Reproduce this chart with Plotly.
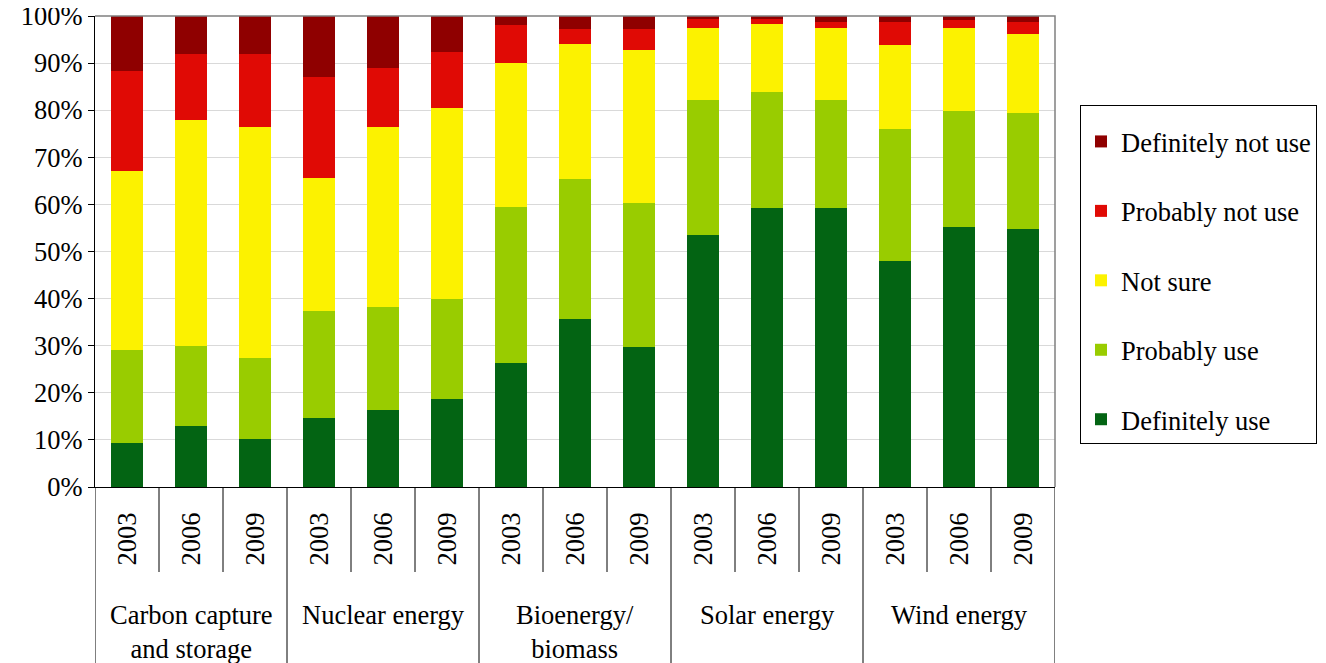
import plotly.graph_objects as go

groups = ["Carbon capture<br>and storage", "Nuclear energy", "Bioenergy/<br>biomass",
          "Solar energy", "Wind energy"]
years = ["2003", "2006", "2009"]

definitely_use = [9.4, 12.9, 10.2, 14.6, 16.4, 18.6, 26.4, 35.6, 29.8, 53.4, 59.3, 59.2, 48.0, 55.3, 54.7]
probably_use = [19.6, 17.0, 17.2, 22.8, 21.8, 21.3, 33.0, 29.7, 30.5, 28.8, 24.5, 23.0, 28.1, 24.5, 24.7]
not_sure = [38.1, 48.0, 49.0, 28.2, 38.2, 40.6, 30.6, 28.8, 32.5, 15.3, 14.5, 15.3, 17.8, 17.7, 16.7]
probably_not = [21.3, 14.0, 15.6, 21.4, 12.6, 11.9, 8.0, 3.1, 4.5, 1.8, 1.0, 1.3, 4.9, 1.6, 2.7]
definitely_not = [11.6, 8.1, 8.0, 13.0, 11.0, 7.6, 2.0, 2.8, 2.7, 0.7, 0.7, 1.2, 1.2, 0.9, 1.2]

series = [
    ("Definitely use", definitely_use, "#036413"),
    ("Probably use", probably_use, "#99CC00"),
    ("Not sure", not_sure, "#FCF200"),
    ("Probably not use", probably_not, "#E00A05"),
    ("Definitely not use", definitely_not, "#8F0000"),
]

FONT = "Liberation Serif, Times New Roman, serif"
FS = 26.5
n = len(groups) * len(years)
xs = list(range(n))
year_labels = [y for g in groups for y in years]

fig = go.Figure()
for k, (name, vals, col) in enumerate(series):
    fig.add_trace(go.Bar(x=xs, y=[v / 100 for v in vals], name=name, legendgroup=name,
                         legendrank=len(series) - k,
                         marker=dict(color=col, line=dict(width=0))))

# page geometry (the page body has an 8px margin, so the figure is 8px smaller)
OFF = 8
W, H = 1326 - OFF, 663 - OFF
PL, PR, PT, PB = 95, 1055, 16, 487   # plot area in window pixels
ml, mt = PL - OFF, PT - OFF
mr = W - (PR - OFF)
mb = H - (PB - OFF)
ph = PB - PT
pw = PR - PL

def py(pix):
    return (PB - pix) / ph

def px(pix):
    return (pix - PL) / pw

shapes = []
shapes.append(dict(type="path", xref="paper", yref="paper",
                   path="M 0,1 L 1,1 L 1,0", line=dict(color="#808080", width=1.5)))
for i in range(n + 1):
    xb = i - 0.5
    is_group = (i % len(years) == 0)
    y1 = py(663) if is_group else py(572)
    shapes.append(dict(type="line", xref="x", yref="paper", x0=xb, x1=xb, y0=0, y1=y1,
                       line=dict(color="black", width=1)))

annotations = []
for gi, g in enumerate(groups):
    annotations.append(dict(x=gi * len(years) + 1, y=py(598), xref="x", yref="paper",
                            text=g, showarrow=False, yanchor="top", xanchor="center",
                            font=dict(family=FONT, size=FS, color="black")))

fig.update_layout(
    width=W, height=H,
    margin=dict(l=ml, r=mr, t=mt, b=mb, autoexpand=False),
    barmode="stack", bargap=0.5,
    plot_bgcolor="white", paper_bgcolor="white",
    font=dict(family=FONT, size=FS, color="black"),
    shapes=shapes, annotations=annotations,
    xaxis=dict(range=[-0.5, n - 0.5], tickmode="array", tickvals=xs, ticktext=year_labels,
               tickangle=-90, ticks="", showgrid=False, showline=True, linecolor="black",
               linewidth=1, tickfont=dict(family=FONT, size=FS), ticklabelstandoff=14,
               zeroline=False, automargin=False, ticklabeloverflow="allow"),
    yaxis=dict(range=[0, 1], tickformat=".0%", dtick=0.1, showgrid=True,
               gridcolor="#D9D9D9", gridwidth=1, showline=True, linecolor="black",
               linewidth=1, ticks="outside", ticklen=6, tickcolor="black",
               tickfont=dict(family=FONT, size=FS), zeroline=False, automargin=False,
               ticklabeloverflow="allow"),
    legend=dict(x=px(1080), y=py(105), xanchor="left", yanchor="top",
                bordercolor="black", borderwidth=1, bgcolor="white",
                font=dict(family=FONT, size=FS), traceorder="grouped",
                tracegroupgap=32, itemwidth=30,
                title=dict(text=" ", font=dict(size=9))),
    showlegend=True,
)

fig.write_html("out.html")
